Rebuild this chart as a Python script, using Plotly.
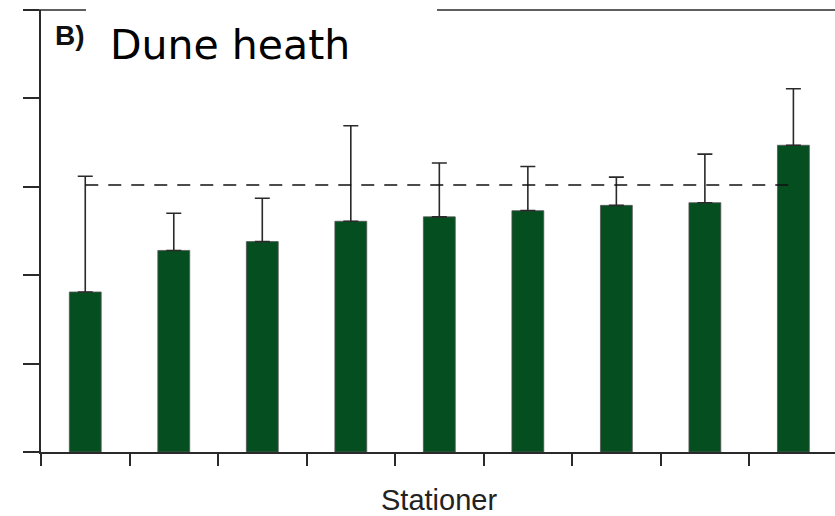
import plotly.graph_objects as go

stations = list(range(9))
means = [1.81, 2.28, 2.38, 2.61, 2.66, 2.73, 2.79, 2.82, 3.47]
err_up = [1.31, 0.42, 0.49, 1.08, 0.61, 0.50, 0.32, 0.55, 0.64]
ref_level = [3.02, 3.02]
ref_x = [0, 8]

W, H = 835, 516
L, R, T, B = 41, 0, 10, 64
pw, ph = W - L - R, H - T - B

def px(x):
    return (x - L) / pw

def py(y):
    return (H - B - y) / ph

line_col = "#2a2a2a"

fig = go.Figure()
fig.add_trace(go.Bar(
    x=stations, y=means, width=0.36,
    marker=dict(color="#044e20", line=dict(color="#555555", width=0.8)),
    error_y=dict(type="data", symmetric=False, array=err_up,
                 arrayminus=[0] * len(means), color=line_col,
                 thickness=1.6, width=7.5),
    showlegend=False,
))
fig.add_trace(go.Scatter(
    x=ref_x, y=ref_level, mode="lines",
    line=dict(color="#111111", width=1.4, dash="13px,10px"),
    showlegend=False,
))

fig.update_layout(
    width=W, height=H,
    margin=dict(l=L, r=R, t=T, b=B),
    plot_bgcolor="white", paper_bgcolor="white",
    xaxis=dict(range=[-0.5, 8.47], showgrid=False, zeroline=False,
               showline=True, linecolor=line_col, linewidth=1.5,
               tickmode="array", tickvals=[i - 0.5 for i in range(9)],
               ticktext=[""] * 9, ticks="outside", ticklen=12,
               tickwidth=1.5, tickcolor=line_col),
    yaxis=dict(range=[0, 5], showgrid=False, zeroline=False,
               showline=True, linecolor=line_col, linewidth=1.5,
               tickmode="array", tickvals=[0, 1, 2, 3, 4, 5],
               ticktext=[""] * 6, ticks="outside", ticklen=16,
               tickwidth=1.5, tickcolor=line_col),
    shapes=[
        dict(type="line", xref="paper", yref="paper", x0=px(25), x1=px(86),
             y0=1, y1=1, line=dict(color=line_col, width=1.5)),
        dict(type="line", xref="paper", yref="paper", x0=px(437), x1=1,
             y0=1, y1=1, line=dict(color=line_col, width=1.5)),
    ],
    annotations=[
        dict(text="<b>B)</b>", xref="paper", yref="paper", x=px(53), y=py(35),
             xanchor="left", yanchor="middle", showarrow=False,
             font=dict(family="Liberation Sans, Arial", size=28, color="#111111")),
        dict(text="Dune heath", xref="paper", yref="paper", x=px(108), y=py(45),
             xanchor="left", yanchor="middle", showarrow=False,
             font=dict(family="DejaVu Sans", size=41, color="#000000")),
        dict(text="Stationer", xref="paper", yref="paper", x=px(439), y=py(500),
             xanchor="center", yanchor="middle", showarrow=False,
             font=dict(family="Liberation Sans, Arial", size=29, color="#222222")),
    ],
)

fig.write_html("out.html")
